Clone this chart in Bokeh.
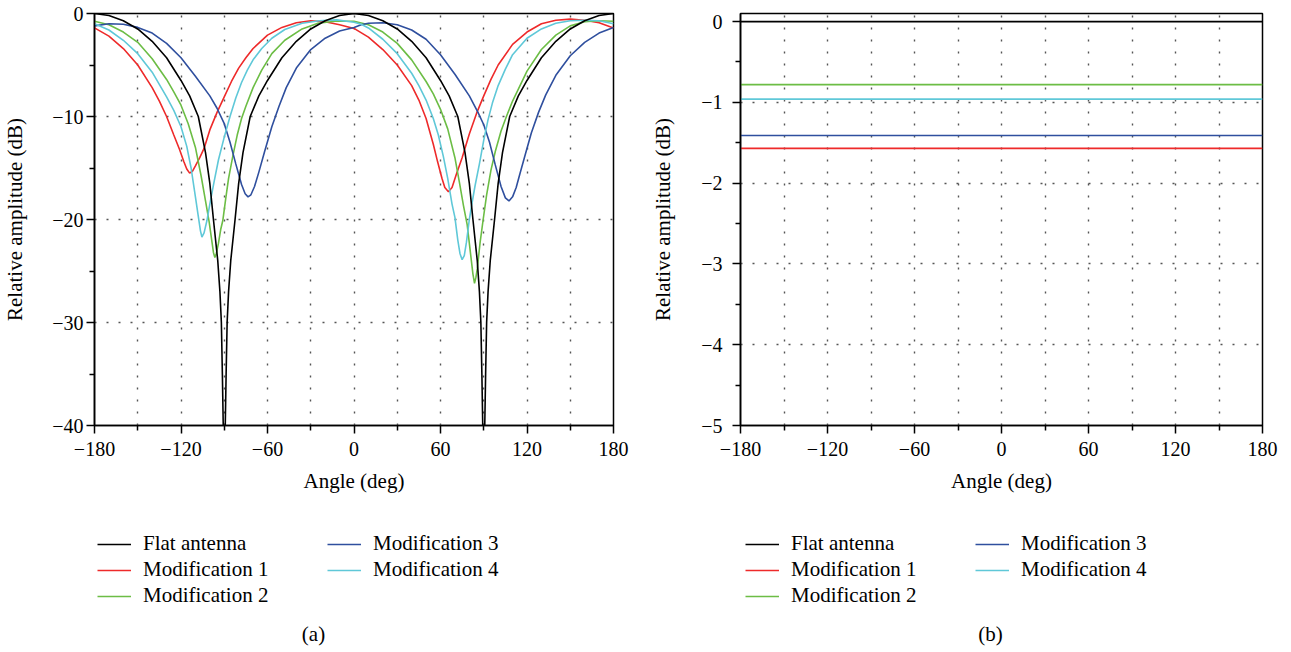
from bokeh.plotting import figure
from bokeh.layouts import row, column
from bokeh.models import (FixedTicker, CustomJSTickFormatter, Legend, LegendItem, Label)
from bokeh.embed import file_html
from bokeh.resources import INLINE

# ---------------------------------------------------------------- data
SERIES_NAMES = ["Flat antenna", "Modification 1", "Modification 2",
                "Modification 3", "Modification 4"]
SERIES_COLORS = ["#000000", "#ee2a2a", "#6cbd45", "#2f4f9e", "#5fc8d8"]

# (a) radiation pattern, relative amplitude (dB) versus angle (deg)
FLAT_ANGLE = [-180, -170, -160, -150, -140, -130, -120, -114, -108, -103, -100, -97.5,
              -94.5, -93, -92, -91.3, -90.7, -90, -89.3, -88.7, -88, -87, -85.5,
              -82.5, -80, -77, -72, -66, -60, -50, -40, -30, -20, -10, 0,
              10, 20, 30, 40, 50, 60, 66, 72, 77, 80, 82.5, 85.5, 87, 88, 88.7, 89.3,
              90, 90.7, 91.3, 92, 93, 94.5, 97.5, 100, 103, 108, 114, 120,
              130, 140, 150, 160, 170, 180]
FLAT_DB = [0, -0.2, -0.7, -1.5, -2.7, -4.3, -6.5, -8.0, -10.0, -13.5, -16.5, -20.0,
           -24.0, -27.0, -30.0, -35.0, -40.0, -50.0, -40.0, -35.0, -30.0, -27.0, -24.0,
           -20.0, -16.5, -13.5, -10.0, -8.0, -6.5, -4.3, -2.7, -1.5, -0.7, -0.2, 0,
           -0.2, -0.7, -1.5, -2.7, -4.3, -6.5, -8.0, -10.0, -13.5, -16.5, -20.0, -24.0,
           -27.0, -30.0, -35.0, -40.0,
           -50.0, -40.0, -35.0, -30.0, -27.0, -24.0, -20.0, -16.5, -13.5, -10.0, -8.0, -6.5,
           -4.3, -2.7, -1.5, -0.7, -0.2, 0]

MOD1_ANGLE = [-180, -170, -160, -150, -140, -135, -130, -125, -121, -118, -116, -114,
              -112, -110, -107, -104, -100, -95, -90, -85, -80, -75, -70, -60, -50,
              -40, -30, -20, -10, 0, 10, 20, 30, 40, 45, 50, 55, 58, 61, 63, 65.5,
              68, 71, 75, 80, 85, 90, 95, 100, 110, 120, 130, 140, 150, 160, 170, 180]
MOD1_DB = [-1.4, -2.2, -3.4, -5.0, -7.2, -8.5, -10.0, -11.8, -13.2, -14.4, -15.1, -15.5,
           -15.3, -14.8, -14.0, -13.1, -11.3, -9.6, -8.1, -6.6, -5.3, -4.3, -3.4, -2.1, -1.35,
           -0.9, -0.72, -0.8, -1.1, -1.45, -2.3, -3.5, -5.0, -7.0, -8.4, -10.2, -12.7, -14.4,
           -16.0, -16.9, -17.3,
           -16.9, -15.6, -14.0, -11.7, -9.7, -8.0, -6.4, -5.0, -3.0, -1.8, -1.0, -0.65, -0.55,
           -0.65, -0.9, -1.4]

MOD2_ANGLE = [-180, -170, -160, -150, -140, -130, -125, -120, -115, -110, -106, -103,
              -100.5, -98.5, -97.5, -96.5, -95.5, -94, -92.5, -91, -89, -87, -84, -81,
              -78, -75, -70, -64, -57, -48, -36, -25, -13, 0, 10, 20, 30, 40, 50, 55,
              60, 65, 70, 73, 76, 78.5, 81, 82.5, 83.6, 84.6, 85.5, 87.5,
              89.6, 92, 95, 98, 102, 106, 110, 120, 130, 140, 150, 160, 170, 180]
MOD2_DB = [-0.75, -1.1, -1.8, -2.8, -4.4, -6.4, -7.6, -8.9, -10.7, -13.0, -15.8, -18.2,
           -20.2, -22.2, -23.2, -23.7, -23.3, -22.3, -21.0, -20.1, -18.0, -16.0, -13.8, -11.8,
           -10.2, -9.0, -7.2, -5.5, -3.9, -2.6, -1.5, -0.95, -0.75, -0.75, -1.1, -1.8, -2.9,
           -4.5, -6.6, -7.8,
           -9.3, -11.2, -14.0, -16.3, -18.7, -20.5, -23.5, -25.3, -26.2, -25.6, -24.8, -22.2,
           -20.0, -17.6, -15.2, -13.4, -11.4, -9.9, -8.5, -5.6, -3.5, -2.1, -1.2, -0.8, -0.7,
           -0.75]

MOD3_ANGLE = [-180, -170, -160, -150, -140, -130, -120, -110, -100, -95, -90, -86, -82,
              -78, -75.5, -73.5, -71.5, -69, -66, -62, -57, -52, -47, -40, -30, -20, -10,
              0, 5, 10, 20, 30, 40, 50, 60, 70, 80, 86, 90, 94, 98, 102, 105, 107.5, 110,
              112.5, 115, 119, 123, 128, 133, 140, 150, 160, 170, 180]
MOD3_DB = [-1.2, -1.0, -1.05, -1.35, -1.9, -2.9, -4.3, -6.1, -8.0, -9.2, -10.7, -12.5, -14.6,
           -16.6, -17.5, -17.8, -17.6, -16.8, -15.4, -13.4, -11.0, -9.0, -7.2, -5.3, -3.5,
           -2.4, -1.7, -1.35, -1.1, -0.95, -0.9, -1.1, -1.6, -2.5, -4.0, -5.9, -8.0, -9.6,
           -10.8, -12.5, -14.7, -16.8, -17.9, -18.2, -17.8, -16.9, -15.6, -13.6, -11.6, -9.6,
           -7.9, -6.0, -4.1, -2.8, -1.9, -1.35]

MOD4_ANGLE = [-180, -170, -160, -150, -140, -130, -125, -120, -116, -113, -110, -108,
              -106.5, -105.5, -104, -102, -100, -97, -94, -90, -86, -82, -78, -74, -70,
              -64, -57, -48, -36, -24, -12, 0, 5, 10, 20, 30, 40, 45, 50, 55, 58.5, 62,
              65, 68, 70, 72, 73.5, 75, 76.5, 78, 80, 82, 84, 87, 90, 93, 96, 100, 105,
              110, 120, 130, 140, 150, 160, 170, 180]
MOD4_DB = [-1.0, -1.6, -2.6, -3.9, -5.7, -8.1, -9.4, -11.0, -12.9, -15.0, -17.8, -19.7,
           -21.1, -21.7, -21.3, -20.1, -18.5, -16.3, -14.2, -12.0, -10.0, -8.2, -6.7, -5.5,
           -4.5, -3.4, -2.4, -1.55, -0.95, -0.7, -0.62, -0.85, -1.05, -1.4, -2.5, -3.9, -5.8,
           -7.0, -8.4, -10.2, -11.8, -13.9, -16.0, -18.5, -19.8, -22.0, -23.3, -23.9, -23.5,
           -22.2, -20.0, -18.3, -16.7, -14.6, -12.3, -10.3, -8.7, -7.0, -5.4, -4.0, -2.4,
           -1.5, -0.95, -0.7, -0.65, -0.7, -1.0]

PATTERN_ANGLES = [FLAT_ANGLE, MOD1_ANGLE, MOD2_ANGLE, MOD3_ANGLE, MOD4_ANGLE]
PATTERN_DB = [FLAT_DB, MOD1_DB, MOD2_DB, MOD3_DB, MOD4_DB]

# (b) angle-independent relative amplitude (dB)
LEVEL_ANGLE = [-180, 180]
LEVEL_DB = [0.0, -1.57, -0.78, -1.41, -0.96]

# axis ticks
X_MAJOR = [-180, -120, -60, 0, 60, 120, 180]
X_MINOR = [-150, -90, -30, 30, 90, 150]
X_GRID = [-150, -120, -90, -60, -30, 0, 30, 60, 90, 120, 150]
A_Y_MAJOR = [-40, -30, -20, -10, 0]
A_Y_MINOR = [-35, -25, -15, -5]
A_Y_GRID = [-30, -20, -10]
B_Y_MAJOR = [-5, -4, -3, -2, -1, 0]
B_Y_MINOR = [-4.5, -3.5, -2.5, -1.5, -0.5]
B_Y_GRID = [-4, -3, -2, -1]

# ---------------------------------------------------------------- styling
FONT = "Liberation Serif"
TICK_SIZE = "20px"
TEXT_SIZE = "21px"
PLOT_H = 500
FOOT_H = 152


def minus_formatter():
    return CustomJSTickFormatter(
        code="return tick < 0 ? '\u2212' + Math.abs(tick) : String(tick);")


def make_panel(width, left, right, y_range, y_major, y_minor, y_grid,
               y_label_standoff, y_title_standoff):
    p = figure(width=width, height=PLOT_H, x_range=(-180, 180), y_range=y_range,
               output_backend="svg", toolbar_location=None,
               min_border_left=left, min_border_right=right,
               min_border_top=13, min_border_bottom=PLOT_H - 425)
    p.background_fill_color = "white"
    p.border_fill_color = "white"
    p.outline_line_color = "black"
    p.outline_line_width = 1.5

    p.xaxis.ticker = FixedTicker(ticks=X_MAJOR, minor_ticks=X_MINOR)
    p.yaxis.ticker = FixedTicker(ticks=y_major, minor_ticks=y_minor)
    p.xaxis.formatter = minus_formatter()
    p.yaxis.formatter = minus_formatter()
    p.xaxis.axis_label = "Angle (deg)"
    p.yaxis.axis_label = "Relative amplitude (dB)"
    for ax in (p.xaxis[0], p.yaxis[0]):
        ax.axis_line_color = "black"
        ax.axis_line_width = 1.6
        ax.major_tick_line_color = "black"
        ax.major_tick_line_width = 1.5
        ax.minor_tick_line_color = "black"
        ax.minor_tick_line_width = 1.5
        ax.major_tick_out = 8
        ax.major_tick_in = 0
        ax.minor_tick_out = 5
        ax.minor_tick_in = 0
        ax.major_label_text_font = FONT
        ax.major_label_text_font_size = TICK_SIZE
        ax.major_label_text_color = "black"
        ax.axis_label_text_font = FONT
        ax.axis_label_text_font_size = TEXT_SIZE
        ax.axis_label_text_font_style = "normal"
        ax.axis_label_text_color = "black"
    p.xaxis.major_label_standoff = 8
    p.xaxis.axis_label_standoff = 10
    p.yaxis.major_label_standoff = y_label_standoff
    p.yaxis.axis_label_standoff = y_title_standoff

    p.xgrid.ticker = FixedTicker(ticks=X_GRID)
    p.ygrid.ticker = FixedTicker(ticks=y_grid)
    for g in (p.xgrid[0], p.ygrid[0]):
        g.grid_line_color = "#555555"
        g.grid_line_width = 1.4
        g.grid_line_dash = "2 10"
    return p


def make_footer(width, x_first, x_second, caption, caption_x):
    """Legend block and sub-figure caption drawn below a panel.

    The footer shares its column with a panel, so its frame is aligned with
    that panel's frame; screen offsets below are measured from the frame's
    bottom-left corner."""
    f = figure(width=width, height=FOOT_H, x_range=(0, 1), y_range=(0, 1),
               output_backend="svg", toolbar_location=None,
               x_axis_location=None, y_axis_location=None, min_border=0)
    f.outline_line_color = None
    f.xgrid.visible = False
    f.ygrid.visible = False
    f.background_fill_color = "white"
    f.border_fill_color = "white"
    # legend keys: one-point lines placed outside the visible range
    keys = [f.line([-5, -5], [-5, -5], line_color=c, line_width=1.6)
            for c in SERIES_COLORS]

    def legend(idx, loc):
        return Legend(
            items=[LegendItem(label=SERIES_NAMES[i], renderers=[keys[i]]) for i in idx],
            location=loc, orientation="vertical",
            border_line_alpha=0, background_fill_alpha=0,
            padding=0, margin=0, spacing=1,
            glyph_width=34, glyph_height=20, label_height=20, label_standoff=12,
            label_text_font=FONT, label_text_font_size=TEXT_SIZE,
            label_text_color="black")
    f.add_layout(legend([0, 1, 2], (x_first, 44)))
    f.add_layout(legend([3, 4], (x_second, 70)))
    f.add_layout(Label(x=caption_x, y=19, x_units="screen", y_units="screen",
                       text=caption, text_align="center", text_baseline="middle",
                       text_font=FONT, text_font_size=TEXT_SIZE, text_color="black"))
    return f


# ---------------------------------------------------------------- (a)
pa = make_panel(645, 93, 32, (-40, 0), A_Y_MAJOR, A_Y_MINOR, A_Y_GRID, 3, 22)
rend_a = []
for ang, db, color in zip(PATTERN_ANGLES, PATTERN_DB, SERIES_COLORS):
    rend_a.append(pa.line(ang, db, line_color=color, line_width=1.6))
pa.renderers = rend_a[1:] + rend_a[:1]
fa = make_footer(645, 3, 233, "(a)", 219)

# ---------------------------------------------------------------- (b)
pb = make_panel(646, 95, 29, (-5, 0.1), B_Y_MAJOR, B_Y_MINOR, B_Y_GRID, 10, 23)
for level, color in zip(LEVEL_DB, SERIES_COLORS):
    pb.line(LEVEL_ANGLE, [level, level], line_color=color, line_width=1.6)
fb = make_footer(646, 5, 235, "(b)", 250)

layout = row(column(pa, fa), column(pb, fb))
open("out.html", "w").write(file_html(layout, INLINE))
